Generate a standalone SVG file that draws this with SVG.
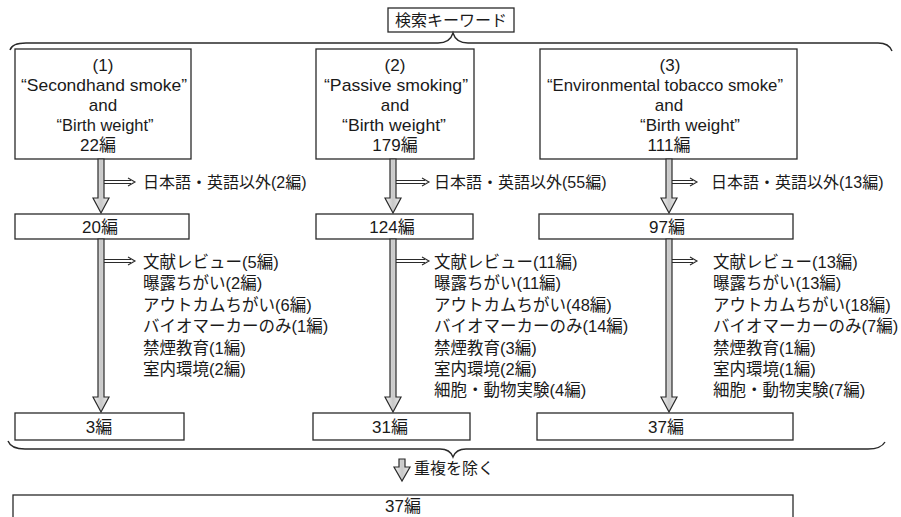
<svg xmlns="http://www.w3.org/2000/svg" width="901" height="517" viewBox="0 0 901 517">
<defs>
<style>
.bg{fill:#ffffff}
.box{fill:#ffffff;stroke:#2a2a2a;stroke-width:1.3}
.t{font-family:"Liberation Sans","Noto Sans CJK JP",sans-serif;font-size:16px;fill:#1a1a1a}
.c{text-anchor:middle}
.lat{font-size:17px}
.li{font-size:16.5px}
.brace{fill:none;stroke:#2a2a2a;stroke-width:1.4}
.main{fill:url(#g);stroke:#2a2a2a;stroke-width:1.2;stroke-linejoin:miter}
.side{fill:none;stroke:#2a2a2a;stroke-width:1.1}
</style>
<linearGradient id="g" x1="0" y1="0" x2="1" y2="0">
<stop offset="0" stop-color="#f4f4f4"/>
<stop offset="0.5" stop-color="#c8c8c8"/>
<stop offset="1" stop-color="#ececec"/>
</linearGradient>
</defs>
<rect class="bg" x="0" y="0" width="901" height="517"/>

<g id="keyword-title">
<rect class="box" x="388" y="8" width="126" height="24"/>
<text class="t c" x="451" y="26">検索キーワード</text>
</g>

<g id="brace-top">
<path class="brace" d="M10 50 Q12 43 26 43 H438 Q450 43 453 33 Q456 43 468 43 H878 Q889 43 892 51"/>
</g>

<g id="query1">
<rect class="box" x="15" y="49" width="176" height="110"/>
<text class="t c lat" x="103" y="71">(1)</text>
<text class="t c lat" x="104" y="91" textLength="166" lengthAdjust="spacingAndGlyphs">“Secondhand smoke”</text>
<text class="t c lat" x="103" y="111">and</text>
<text class="t c lat" x="105" y="131" textLength="97" lengthAdjust="spacingAndGlyphs">“Birth weight”</text>
<text class="t c lat" x="98" y="151">22編</text>
</g>

<g id="query2">
<rect class="box" x="316" y="49" width="158" height="110"/>
<text class="t c lat" x="395" y="71">(2)</text>
<text class="t c lat" x="396" y="91" textLength="144" lengthAdjust="spacingAndGlyphs">“Passive smoking”</text>
<text class="t c lat" x="395" y="111">and</text>
<text class="t c lat" x="394" y="131" textLength="104" lengthAdjust="spacingAndGlyphs">“Birth weight”</text>
<text class="t c lat" x="395" y="151">179編</text>
</g>

<g id="query3">
<rect class="box" x="540" y="49" width="257" height="110"/>
<text class="t c lat" x="670" y="71">(3)</text>
<text class="t c lat" x="665" y="91" textLength="236" lengthAdjust="spacingAndGlyphs">“Environmental tobacco smoke”</text>
<text class="t c lat" x="669" y="111">and</text>
<text class="t c lat" x="690" y="131" textLength="100" lengthAdjust="spacingAndGlyphs">“Birth weight”</text>
<text class="t c lat" x="669" y="151">111編</text>
</g>

<g id="excl-lang-1"><text class="t" x="143" y="188">日本語・英語以外(2編)</text></g>
<g id="excl-lang-2"><text class="t" x="434" y="188">日本語・英語以外(55編)</text></g>
<g id="excl-lang-3"><text class="t" x="711" y="188">日本語・英語以外(13編)</text></g>

<g id="count-20">
<rect class="box" x="15" y="214" width="174" height="25"/>
<text class="t c lat" x="100" y="233">20編</text>
</g>
<g id="count-124">
<rect class="box" x="316" y="214" width="157" height="25"/>
<text class="t c lat" x="392" y="233">124編</text>
</g>
<g id="count-97">
<rect class="box" x="539" y="214" width="254" height="25"/>
<text class="t c lat" x="667" y="233">97編</text>
</g>

<g id="excl-list-1">
<text class="t li" x="143" y="268">文献レビュー(5編)</text>
<text class="t li" x="143" y="289.4">曝露ちがい(2編)</text>
<text class="t li" x="143" y="310.8">アウトカムちがい(6編)</text>
<text class="t li" x="143" y="332.2">バイオマーカーのみ(1編)</text>
<text class="t li" x="143" y="353.6">禁煙教育(1編)</text>
<text class="t li" x="143" y="375">室内環境(2編)</text>
</g>
<g id="excl-list-2">
<text class="t li" x="434" y="268">文献レビュー(11編)</text>
<text class="t li" x="434" y="289.4">曝露ちがい(11編)</text>
<text class="t li" x="434" y="310.8">アウトカムちがい(48編)</text>
<text class="t li" x="434" y="332.2">バイオマーカーのみ(14編)</text>
<text class="t li" x="434" y="353.6">禁煙教育(3編)</text>
<text class="t li" x="434" y="375">室内環境(2編)</text>
<text class="t li" x="434" y="396.4">細胞・動物実験(4編)</text>
</g>
<g id="excl-list-3">
<text class="t li" x="713" y="268">文献レビュー(13編)</text>
<text class="t li" x="713" y="289.4">曝露ちがい(13編)</text>
<text class="t li" x="713" y="310.8">アウトカムちがい(18編)</text>
<text class="t li" x="713" y="332.2">バイオマーカーのみ(7編)</text>
<text class="t li" x="713" y="353.6">禁煙教育(1編)</text>
<text class="t li" x="713" y="375">室内環境(1編)</text>
<text class="t li" x="713" y="396.4">細胞・動物実験(7編)</text>
</g>

<g id="count-3">
<rect class="box" x="15" y="413" width="169" height="27"/>
<text class="t c lat" x="99" y="433">3編</text>
</g>
<g id="count-31">
<rect class="box" x="313" y="413" width="157" height="27"/>
<text class="t c lat" x="390" y="433">31編</text>
</g>
<g id="count-37">
<rect class="box" x="537" y="413" width="256" height="27"/>
<text class="t c lat" x="666" y="433">37編</text>
</g>

<g id="brace-bottom">
<path class="brace" d="M8 441 Q11 449 25 449 H440 Q450 449 453 457 Q456 449 466 449 H868 Q881 449 885 442"/>
</g>

<g id="dedup-label"><text class="t" x="414" y="474">重複を除く</text></g>

<g id="final-37">
<rect class="box" x="13" y="495" width="780" height="40"/>
<text class="t c lat" x="403" y="512">37編</text>
</g>

<g id="connectors">
<path class="main" d="M98 159 V198 H93 L101 213 L109 198 H104 V159 Z"/>
<path class="main" d="M98 239 V397 H93 L101 412 L109 397 H104 V239 Z"/>
<path class="main" d="M390 159 V198 H385 L393 213 L401 198 H396 V159 Z"/>
<path class="main" d="M390 239 V397 H385 L393 412 L401 397 H396 V239 Z"/>
<path class="main" d="M666 159 V198 H661 L669 213 L677 198 H672 V159 Z"/>
<path class="main" d="M666 239 V397 H661 L669 412 L677 397 H672 V239 Z"/>
<path class="main" d="M399 459 V467 H394 L402 481 L410 467 H405 V459 Z"/>
<path class="side" d="M104 180.5 H131 M104 183.5 H131 M128 178 L135 182 L128 186"/>
<path class="side" d="M396 180.5 H425 M396 183.5 H425 M422 178 L429 182 L422 186"/>
<path class="side" d="M672 180.5 H693 M672 183.5 H693 M690 178 L697 182 L690 186"/>
<path class="side" d="M104 259.5 H131 M104 262.5 H131 M128 257 L135 261 L128 265"/>
<path class="side" d="M396 259.5 H425 M396 262.5 H425 M422 257 L429 261 L422 265"/>
<path class="side" d="M672 259.5 H693 M672 262.5 H693 M690 257 L697 261 L690 265"/>
</g>
</svg>
